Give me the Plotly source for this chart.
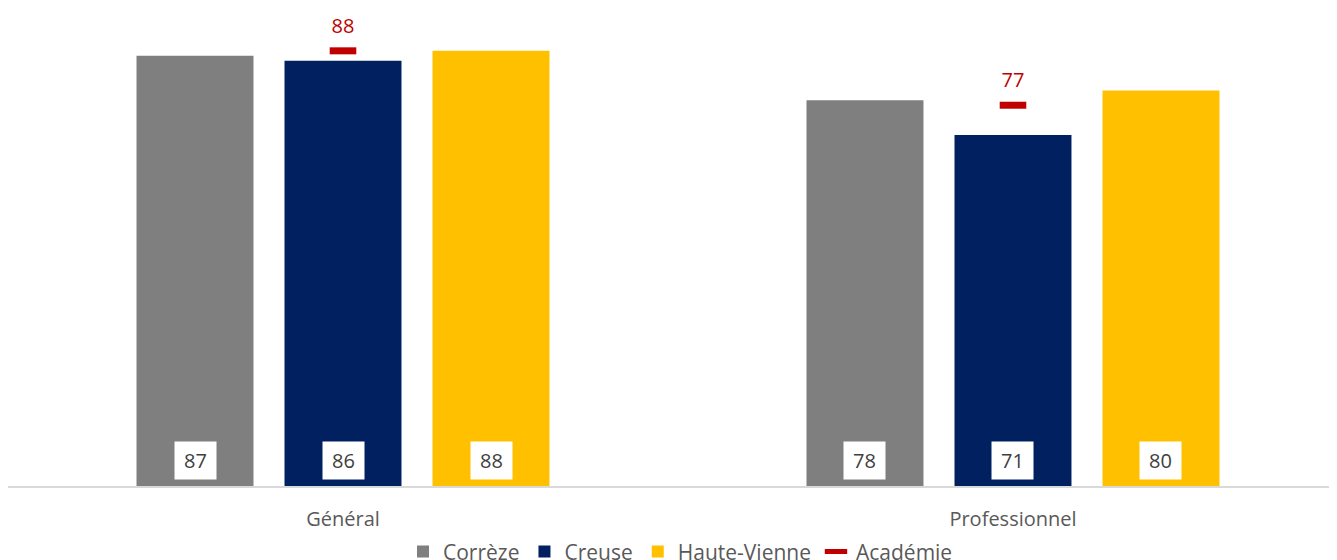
import plotly.graph_objects as go

categories = ["Général", "Professionnel"]
series_names = ["Corrèze", "Creuse", "Haute-Vienne"]
correze = [87, 78]
creuse = [86, 71]
haute_vienne = [88, 80]
academie = [88, 77]

colors = ["#7F7F7F", "#002060", "#FFC000"]
FONT = "Open Sans"

fig = go.Figure()
series = [correze, creuse, haute_vienne]
for name, vals, col in zip(series_names, series, colors):
    fig.add_trace(go.Bar(x=categories, y=vals, name=name, marker_color=col,
                         marker_line_width=0, hoverinfo="skip"))

fig.add_trace(go.Scatter(x=categories, y=academie, name="Académie", mode="markers+text",
                         marker=dict(symbol="line-ew", size=19,
                                     line=dict(width=7, color="#C00000"), color="#C00000"),
                         text=[str(v) for v in academie], textposition="top center",
                         textfont=dict(color="#C00000", size=20, family=FONT),
                         hoverinfo="skip"))

bargap = 0.3373
groupgap = 0.2096
slot = (1 - bargap) / 3
annotations = []
for si, vals in enumerate(series):
    for ci, v in enumerate(vals):
        annotations.append(dict(x=ci + (si - 1) * slot, y=0, xref="x", yref="y",
                                text=str(v), showarrow=False, yshift=26,
                                yanchor="middle", xanchor="center",
                                font=dict(size=20, color="#404040", family=FONT),
                                bgcolor="white", borderpad=5, width=31))

fig.update_layout(
    width=1337, height=560,
    margin=dict(l=0, r=8, t=0, b=82, autoexpand=False),
    barmode="group", bargap=bargap, bargroupgap=groupgap,
    plot_bgcolor="white", paper_bgcolor="white",
    font=dict(family=FONT, color="#595959"),
    showlegend=True,
    legend=dict(orientation="h", xref="container", yref="container",
                xanchor="center", x=0.503, yanchor="middle", y=0.029,
                font=dict(size=21, color="#595959", family=FONT), itemwidth=30,
                traceorder="normal"),
    annotations=annotations,
    xaxis=dict(range=[-0.5, 1.4836], showline=True, linecolor="#D9D9D9", linewidth=2,
               ticks="outside", ticklen=14, tickcolor="rgba(0,0,0,0)",
               tickfont=dict(size=20, color="#595959", family=FONT),
               showgrid=False, fixedrange=True, automargin=False),
    yaxis=dict(range=[0, 96.66], visible=False, showgrid=False, fixedrange=True),
)

fig.write_html("out.html")
